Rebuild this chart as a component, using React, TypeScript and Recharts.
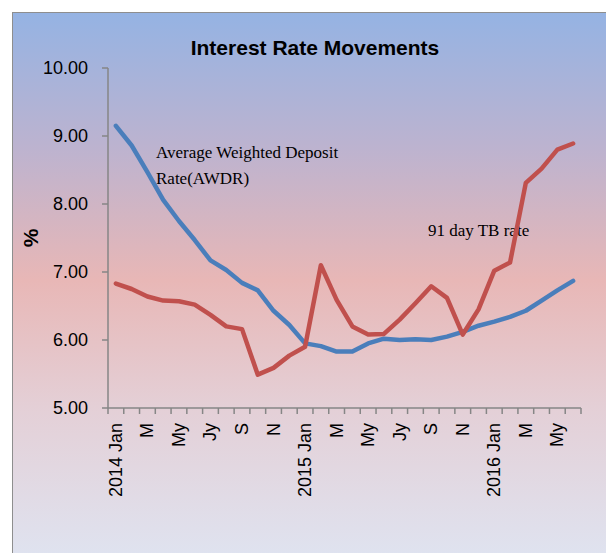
import { LineChart, Line, XAxis, YAxis } from "recharts";

// monthly, 2014 Jan .. 2016 Jun
const months = [
  "2014 Jan", "F", "M", "A", "My", "Jn", "Jy", "Au", "S", "O", "N", "D",
  "2015 Jan", "F", "M", "A", "My", "Jn", "Jy", "Au", "S", "O", "N", "D",
  "2016 Jan", "F", "M", "A", "My", "Jn",
];

const awdr = [
  9.15, 8.86, 8.47, 8.06, 7.75, 7.47, 7.17, 7.03, 6.84, 6.73, 6.43, 6.22,
  5.95, 5.91, 5.83, 5.83, 5.95, 6.02, 6.0, 6.01, 6.0, 6.05, 6.12, 6.21,
  6.27, 6.34, 6.43, 6.58, 6.73, 6.87,
];

const tbRate = [
  6.83, 6.75, 6.64, 6.58, 6.57, 6.52, 6.37, 6.2, 6.16, 5.49, 5.59, 5.77,
  5.9, 7.1, 6.59, 6.2, 6.08, 6.09, 6.3, 6.54, 6.79, 6.62, 6.08, 6.45,
  7.02, 7.14, 8.31, 8.52, 8.8, 8.89,
];

const yTicks = [5, 6, 7, 8, 9, 10];

const data = months.map((m, i) => ({ month: m, pos: i + 0.5, awdr: awdr[i], tb: tbRate[i] }));
const slotTicks = months.map((_, i) => i).concat(months.length);
const labelTicks = months.map((_, i) => i + 0.5).filter((_, i) => i % 2 === 0);

const axisGrey = "#868686";
const sans = "'Liberation Sans', Arial, sans-serif";
const serif = "'Liberation Serif', 'DejaVu Serif', serif";

const MonthTick = (props: any) => {
  const { x, y, payload } = props;
  return (
    <text
      x={x}
      y={y}
      transform={`rotate(-90, ${x}, ${y})`}
      textAnchor="end"
      dominantBaseline="central"
      fontSize={18}
      fontFamily={sans}
      fill="#000"
    >
      {months[Math.floor(payload.value)]}
    </text>
  );
};

export default function App() {
  return (
    <div style={{ position: "relative", width: 606, height: 553, overflow: "hidden" }}>
      <style>{`body{margin:0;overflow:hidden}`}</style>
      <div
        style={{
          position: "absolute",
          left: 12,
          top: 12,
          width: 600,
          height: 545,
          border: "1px solid #8e8e8e",
          background:
            "linear-gradient(to bottom, #95b3e3 0%, #bdb3cf 25%, #e8b7b6 49%, #e4cfd6 72%, #dfe3f0 100%)",
        }}
      />
      <div
        style={{
          position: "absolute",
          left: 0,
          width: 630,
          top: 36,
          textAlign: "center",
          fontFamily: sans,
          fontWeight: "bold",
          fontSize: 21,
          color: "#000",
        }}
      >
        Interest Rate Movements
      </div>
      <div
        style={{
          position: "absolute",
          left: 22,
          top: 226,
          fontFamily: sans,
          fontWeight: "bold",
          fontSize: 21,
          transform: "rotate(-90deg)",
        }}
      >
        %
      </div>
      <div
        style={{
          position: "absolute",
          left: 156,
          top: 140,
          fontFamily: serif,
          fontSize: 17,
          lineHeight: "26px",
        }}
      >
        Average Weighted Deposit
        <br />
        Rate(AWDR)
      </div>
      <div
        style={{ position: "absolute", left: 428, top: 221, fontFamily: serif, fontSize: 17 }}
      >
        91 day TB rate
      </div>
      <div style={{ position: "absolute", left: 0, top: 0 }}>
        <LineChart width={606} height={553} data={data} margin={{ top: 68, right: 25, bottom: 0, left: 0 }}>
          <XAxis
            xAxisId="a-slots"
            type="number"
            dataKey="pos"
            domain={[0, months.length]}
            ticks={slotTicks}
            interval={0}
            height={1}
            tickFormatter={() => ""}
            tickLine={{ stroke: axisGrey, strokeWidth: 1.5 }}
            tickSize={6}
            stroke={axisGrey}
            strokeWidth={1.5}
          />
          <XAxis
            xAxisId="b-labels"
            type="number"
            dataKey="pos"
            domain={[0, months.length]}
            ticks={labelTicks}
            interval={0}
            height={144}
            axisLine={false}
            tickLine={false}
            tickSize={6}
            tickMargin={8}
            tick={<MonthTick />}
          />
          <YAxis
            domain={[5, 10]}
            ticks={yTicks}
            interval={0}
            width={108}
            tickSize={6}
            tickMargin={14}
            tickFormatter={(v: number) => v.toFixed(2)}
            tick={{ fill: "#000", fontSize: 18, fontFamily: sans }}
            stroke={axisGrey}
            strokeWidth={1.5}
          />
          <Line
            xAxisId="a-slots"
            type="linear"
            dataKey="awdr"
            stroke="#4a7ebb"
            strokeWidth={4.5}
            strokeLinejoin="round"
            strokeLinecap="round"
            dot={false}
            activeDot={false}
            isAnimationActive={false}
          />
          <Line
            xAxisId="a-slots"
            type="linear"
            dataKey="tb"
            stroke="#c0504d"
            strokeWidth={4.5}
            strokeLinejoin="round"
            strokeLinecap="round"
            dot={false}
            activeDot={false}
            isAnimationActive={false}
          />
        </LineChart>
      </div>
    </div>
  );
}
